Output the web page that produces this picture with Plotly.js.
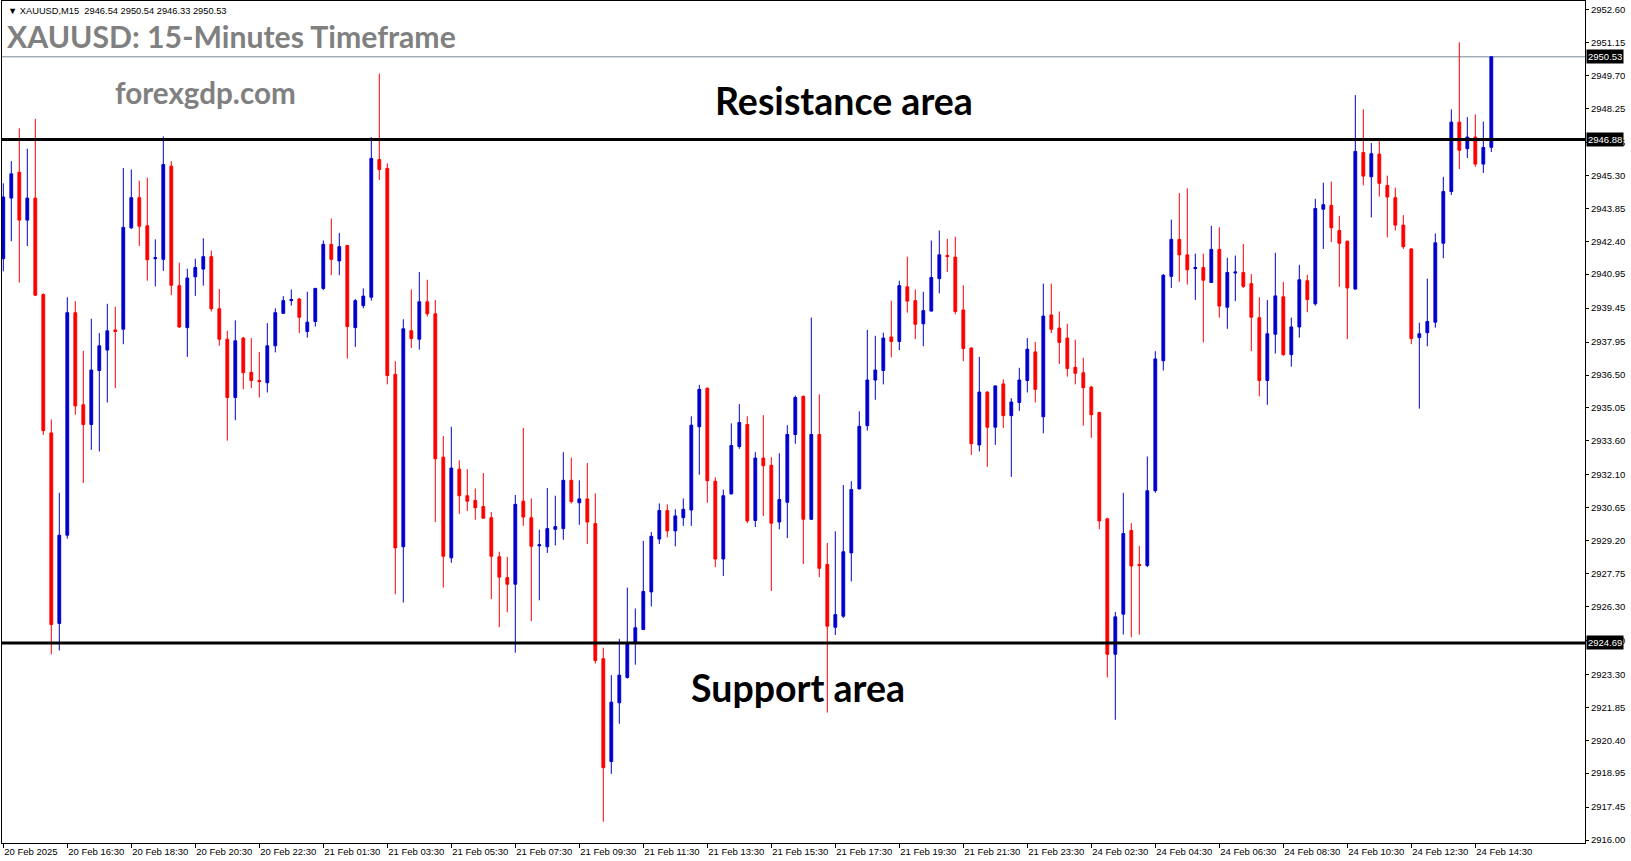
<!DOCTYPE html>
<html>
<head>
<meta charset="utf-8">
<script src="https://cdn.plot.ly/plotly-3.0.1.min.js"></script>
<style>
html,body{margin:0;padding:0;background:#fff;}
#chart{width:1631px;height:861px;}
</style>
</head>
<body>
<div id="chart"></div>
<script>
// XAUUSD M15 candles, 20 Feb 2025 14:30 -> 24 Feb 2025 15:00
const openP = [
2941.63,2944.30,2945.44,2943.33,2944.30,2940.05,2933.95,2925.55,2929.44,2939.25,
2935.19,2934.32,2936.70,2937.60,2938.49,2938.52,2942.99,2944.32,2943.08,2941.63,
2941.60,2945.71,2940.44,2938.59,2940.83,2941.17,2941.72,2939.42,2938.08,2935.51,
2938.13,2936.62,2936.26,2936.16,2937.79,2939.22,2939.78,2939.85,2938.42,2938.86,
2940.32,2942.26,2941.53,2942.21,2938.59,2939.56,2939.93,2946.00,2945.61,2936.53,
2928.93,2938.45,2938.08,2939.73,2939.20,2932.88,2928.44,2932.35,2931.18,2930.97,
2930.70,2930.21,2928.49,2927.57,2927.28,2930.94,2930.21,2928.97,2928.93,2929.70,
2929.73,2931.86,2930.87,2931.04,2929.95,2923.99,2919.46,2922.05,2923.17,2924.70,
2925.28,2926.94,2929.27,2930.53,2929.63,2930.21,2930.55,2934.22,2935.92,2931.82,
2928.39,2931.26,2933.35,2934.32,2930.09,2932.84,2932.52,2930.02,2930.89,2933.88,
2935.56,2930.14,2933.88,2928.15,2925.38,2925.87,2928.66,2931.48,2934.27,2936.28,
2936.70,2938.18,2937.98,2940.39,2939.78,2938.76,2939.32,2940.75,2941.77,2941.70,
2939.37,2937.69,2933.42,2935.75,2934.20,2936.11,2934.71,2935.29,2936.26,2937.52,
2934.66,2939.15,2938.57,2938.13,2936.84,2936.60,2935.97,2934.85,2930.16,2924.19,
2925.96,2929.65,2928.15,2928.10,2931.40,2937.13,2940.85,2942.48,2941.80,2941.19,
2941.24,2940.58,2942.04,2939.49,2941.00,2941.02,2940.53,2939.03,2936.26,2938.30,
2939.95,2937.40,2938.62,2940.66,2939.64,2943.81,2943.98,2942.87,2942.40,2940.29,
2946.31,2945.24,2946.24,2944.86,2944.32,2943.11,2942.06,2938.15,2938.37,2938.83,
2942.31,2944.59,2947.65,2946.48,2946.99,2945.80,2946.54];
const highP = [
2944.95,2945.93,2947.38,2946.48,2947.80,2940.10,2934.54,2931.31,2939.93,2939.76,
2937.57,2938.98,2938.35,2939.64,2939.51,2945.63,2945.56,2945.07,2945.20,2942.48,
2947.02,2945.93,2941.46,2941.19,2941.63,2942.53,2941.99,2940.29,2938.45,2938.91,
2938.18,2938.13,2937.52,2938.79,2939.44,2939.98,2940.27,2939.90,2940.17,2940.34,
2942.43,2943.40,2942.77,2942.24,2939.85,2940.32,2946.99,2949.79,2945.83,2937.11,
2938.96,2940.27,2941.04,2940.70,2939.81,2933.81,2934.22,2932.74,2932.35,2931.50,
2932.18,2930.46,2928.71,2928.49,2931.21,2934.17,2931.06,2929.68,2931.52,2931.18,
2933.10,2932.86,2931.86,2932.62,2931.28,2924.48,2923.27,2924.87,2927.13,2926.21,
2929.19,2929.58,2930.84,2930.80,2930.58,2931.06,2934.68,2936.07,2935.95,2931.99,
2931.45,2934.37,2935.22,2934.68,2933.10,2934.73,2932.88,2933.05,2934.29,2935.60,
2935.60,2939.03,2935.65,2929.10,2929.61,2931.65,2931.82,2934.90,2938.49,2938.23,
2938.37,2939.78,2940.66,2941.72,2940.27,2940.17,2942.43,2942.87,2942.50,2942.60,
2940.46,2937.72,2937.30,2935.78,2936.04,2936.31,2935.48,2936.82,2938.13,2937.96,
2940.53,2940.53,2939.30,2938.76,2938.06,2937.26,2936.02,2934.88,2930.21,2926.06,
2931.31,2929.97,2928.97,2932.91,2937.55,2940.95,2943.35,2944.52,2944.73,2941.85,
2941.85,2943.08,2943.01,2941.67,2941.77,2942.28,2940.95,2939.93,2939.81,2941.89,
2940.61,2939.03,2941.36,2940.92,2944.27,2944.98,2945.03,2943.52,2942.43,2948.84,
2948.21,2946.73,2946.85,2945.29,2944.76,2943.55,2942.09,2938.81,2940.75,2942.74,
2945.24,2948.21,2951.17,2947.87,2947.99,2947.67,2950.54];
const lowP = [
2941.07,2942.40,2940.58,2942.19,2939.98,2933.86,2924.19,2924.36,2929.29,2934.75,
2931.74,2933.20,2933.13,2935.29,2935.92,2937.86,2942.94,2942.19,2940.66,2940.41,
2941.09,2940.02,2938.57,2937.30,2939.99,2940.44,2939.30,2937.79,2933.61,2934.51,
2935.87,2935.92,2935.51,2935.73,2937.50,2939.20,2939.56,2938.35,2938.15,2938.64,
2940.24,2940.90,2940.90,2937.23,2937.74,2939.44,2939.78,2945.10,2936.09,2926.84,
2926.47,2937.69,2937.62,2939.08,2930.02,2927.13,2928.22,2930.38,2930.50,2930.12,
2930.17,2926.62,2925.38,2926.04,2924.26,2929.85,2925.65,2926.57,2928.66,2928.99,
2929.24,2930.84,2929.90,2929.05,2923.78,2916.81,2918.92,2921.13,2923.12,2923.73,
2925.26,2926.30,2929.05,2929.34,2928.95,2929.85,2929.85,2932.11,2930.87,2928.03,
2927.64,2931.24,2933.25,2929.97,2929.80,2930.29,2926.98,2929.70,2929.31,2933.47,
2928.17,2930.12,2927.59,2921.62,2925.04,2925.79,2927.40,2931.46,2934.05,2935.41,
2936.09,2937.28,2937.60,2939.25,2938.08,2937.77,2939.30,2940.10,2941.04,2939.18,
2937.11,2932.98,2933.13,2932.45,2933.42,2934.17,2932.01,2934.92,2935.73,2935.29,
2933.93,2938.35,2936.99,2936.43,2936.09,2934.27,2933.73,2929.70,2923.17,2921.30,
2925.06,2924.94,2925.06,2928.03,2931.31,2936.70,2940.34,2940.61,2940.49,2939.81,
2937.94,2940.56,2939.03,2938.54,2939.76,2940.34,2937.55,2935.56,2935.19,2937.45,
2937.35,2936.87,2938.15,2939.27,2939.56,2942.06,2942.36,2940.39,2938.08,2940.27,
2944.86,2943.45,2944.37,2942.57,2942.87,2942.06,2937.86,2935.02,2937.77,2938.59,
2941.65,2944.44,2945.58,2946.07,2945.68,2945.41,2946.33];
const closeP = [
2944.35,2945.37,2943.33,2944.30,2940.02,2934.05,2925.50,2929.44,2939.25,2935.14,
2934.32,2936.72,2937.79,2938.45,2938.42,2943.01,2944.32,2943.06,2941.58,2941.67,
2945.78,2940.46,2938.62,2940.78,2941.24,2941.72,2939.42,2938.08,2935.51,2938.01,
2936.60,2936.26,2936.21,2937.79,2939.25,2939.78,2939.83,2939.05,2938.83,2940.32,
2942.26,2941.60,2942.16,2938.64,2939.78,2939.98,2946.05,2945.56,2936.48,2928.88,
2938.54,2938.11,2939.73,2939.20,2932.81,2928.51,2932.40,2931.18,2930.94,2930.65,
2930.19,2928.51,2927.59,2927.28,2930.80,2930.24,2928.95,2929.02,2929.73,2929.82,
2931.86,2930.92,2931.04,2930.02,2923.92,2919.19,2922.08,2923.27,2924.63,2925.36,
2926.96,2929.39,2930.53,2929.63,2930.29,2930.58,2934.29,2935.87,2931.84,2928.39,
2931.18,2933.39,2934.41,2930.07,2932.84,2932.50,2929.97,2931.01,2933.88,2935.51,
2930.14,2933.88,2927.98,2925.43,2925.94,2928.71,2931.45,2934.24,2936.28,2936.72,
2938.13,2937.98,2940.44,2939.76,2938.74,2939.34,2940.80,2941.80,2941.72,2939.30,
2937.67,2933.47,2935.75,2934.20,2936.02,2934.71,2935.31,2936.28,2937.64,2935.87,
2939.10,2938.52,2937.94,2936.79,2936.58,2935.94,2934.75,2930.07,2924.19,2925.84,
2929.51,2928.08,2928.10,2931.40,2937.21,2940.90,2942.48,2941.80,2941.14,2941.24,
2940.68,2942.04,2939.54,2941.02,2941.04,2940.41,2939.05,2936.26,2938.32,2939.99,
2937.40,2938.62,2940.70,2939.83,2943.84,2944.01,2942.99,2942.31,2940.34,2946.36,
2945.27,2946.26,2944.95,2944.35,2943.11,2942.16,2938.11,2938.32,2938.86,2942.33,
2944.59,2947.65,2946.41,2946.99,2945.80,2946.53,2950.53];

// time-axis labels (one every 8 bars)
const timeTickIdx = [0,8,16,24,32,40,48,56,64,72,80,88,96,104,112,120,128,136,144,152,160,168,176,184];
const timeTickLabels = ["20 Feb 2025","20 Feb 16:30","20 Feb 18:30","20 Feb 20:30","20 Feb 22:30",
 "21 Feb 01:30","21 Feb 03:30","21 Feb 05:30","21 Feb 07:30","21 Feb 09:30","21 Feb 11:30",
 "21 Feb 13:30","21 Feb 15:30","21 Feb 17:30","21 Feb 19:30","21 Feb 21:30","21 Feb 23:30",
 "24 Feb 02:30","24 Feb 04:30","24 Feb 06:30","24 Feb 08:30","24 Feb 10:30","24 Feb 12:30","24 Feb 14:30"];

// price-axis labels
const priceTicks = [2952.60,2951.15,2949.70,2948.25,2946.75,2945.30,2943.85,2942.40,2940.95,
 2939.45,2937.95,2936.50,2935.05,2933.60,2932.10,2930.65,2929.20,2927.75,2926.30,2924.80,
 2923.30,2921.85,2920.40,2918.95,2917.45,2916.00];

// horizontal levels
const resistanceLevel = 2946.88;
const supportLevel = 2924.69;

const n = closeP.length;
const barIdx = closeP.map((_, i) => i);
const last = n - 1;
const bidPrice = closeP[last];

const BLUE = '#0000CC', RED = '#FF0000';

const trace = {
  type: 'candlestick',
  x: barIdx, open: openP, high: highP, low: lowP, close: closeP,
  increasing: {line: {color: BLUE, width: 1}, fillcolor: BLUE},
  decreasing: {line: {color: RED, width: 1}, fillcolor: RED},
  whiskerwidth: 0,
  hoverinfo: 'skip',
  showlegend: false
};

const PLOT_L = 2, PLOT_R = 1585, PLOT_T = 1, PLOT_B = 843;
const W = 1631, H = 861;
const px = x => (x - PLOT_L) / (PLOT_R - PLOT_L);
const py = y => (PLOT_B - y) / (PLOT_B - PLOT_T);

const axisFont = {family: 'Liberation Sans, Arial, sans-serif', size: 9.5, color: '#000'};
const lato = 'Lato, "Open Sans", sans-serif';

const priceBox = (v) => ({
  xref: 'paper', x: 1, xanchor: 'left', xshift: 1,
  yref: 'y', y: v, yanchor: 'middle',
  text: v.toFixed(2), showarrow: false,
  font: {family: axisFont.family, size: 9.5, color: '#fff'},
  bgcolor: '#000', borderpad: 1
});

const header = '\u25BC XAUUSD,M15 \u00A0' + [openP[last], highP[last], lowP[last], closeP[last]].map(v => v.toFixed(2)).join(' ');

const layout = {
  width: W, height: H,
  margin: {l: PLOT_L, r: W - PLOT_R, t: PLOT_T, b: H - PLOT_B, pad: 0},
  paper_bgcolor: '#fff', plot_bgcolor: '#fff',
  boxgap: 0.5,
  showlegend: false,
  xaxis: {
    type: 'linear',
    range: [-0.1625, 197.71],
    showgrid: false, zeroline: false,
    showline: true, mirror: true, linecolor: '#000', linewidth: 1,
    ticks: 'outside', ticklen: 4, tickcolor: '#000', tickwidth: 1,
    tickmode: 'array', tickvals: timeTickIdx, ticktext: timeTickLabels,
    tickangle: 0,
    ticklabelposition: 'outside right',
    tickfont: axisFont,
    rangeslider: {visible: false},
    fixedrange: true
  },
  yaxis: {
    side: 'right',
    range: [2915.87, 2952.99],
    showgrid: false, zeroline: false,
    showline: true, mirror: true, linecolor: '#000', linewidth: 1,
    ticks: 'outside', ticklen: 3, tickcolor: '#000', tickwidth: 1,
    tickmode: 'array', tickvals: priceTicks, ticktext: priceTicks.map(v => v.toFixed(2)),
    tickfont: axisFont,
    fixedrange: true
  },
  shapes: [
    {type: 'line', xref: 'paper', x0: 0, x1: 1, yref: 'y', y0: bidPrice, y1: bidPrice,
     line: {color: '#778899', width: 1}, layer: 'below'},
    {type: 'line', xref: 'paper', x0: 0, x1: 1, yref: 'y', y0: resistanceLevel, y1: resistanceLevel,
     line: {color: '#000', width: 3}, layer: 'above'},
    {type: 'line', xref: 'paper', x0: 0, x1: 1, yref: 'y', y0: supportLevel, y1: supportLevel,
     line: {color: '#000', width: 3}, layer: 'above'}
  ],
  annotations: [
    {xref: 'paper', yref: 'paper', x: px(6), y: py(11), xanchor: 'left', yanchor: 'middle',
     text: header, showarrow: false,
     font: {family: 'Liberation Sans, Arial, sans-serif', size: 9.3, color: '#000'}},
    {xref: 'paper', yref: 'paper', x: px(5), y: py(36), xanchor: 'left', yanchor: 'middle',
     text: '<b>XAUUSD: 15-Minutes Timeframe</b>', showarrow: false,
     font: {family: lato, size: 30.2, color: '#808080'}},
    {xref: 'paper', yref: 'paper', x: px(113), y: py(92), xanchor: 'left', yanchor: 'middle',
     text: '<b>forexgdp.com</b>', showarrow: false,
     font: {family: lato, size: 29.6, color: '#808080'}},
    {xref: 'paper', yref: 'paper', x: px(844), y: py(101), xanchor: 'center', yanchor: 'middle',
     text: '<b>Resistance area</b>', showarrow: false,
     font: {family: lato, size: 37.5, color: '#000'}},
    {xref: 'paper', yref: 'paper', x: px(798), y: py(687), xanchor: 'center', yanchor: 'middle',
     text: '<b>Support area</b>', showarrow: false,
     font: {family: lato, size: 37.5, color: '#000'}},
    priceBox(bidPrice),
    priceBox(resistanceLevel),
    priceBox(supportLevel)
  ]
};

Plotly.newPlot('chart', [trace], layout, {displayModeBar: false, staticPlot: true});
</script>
</body>
</html>
